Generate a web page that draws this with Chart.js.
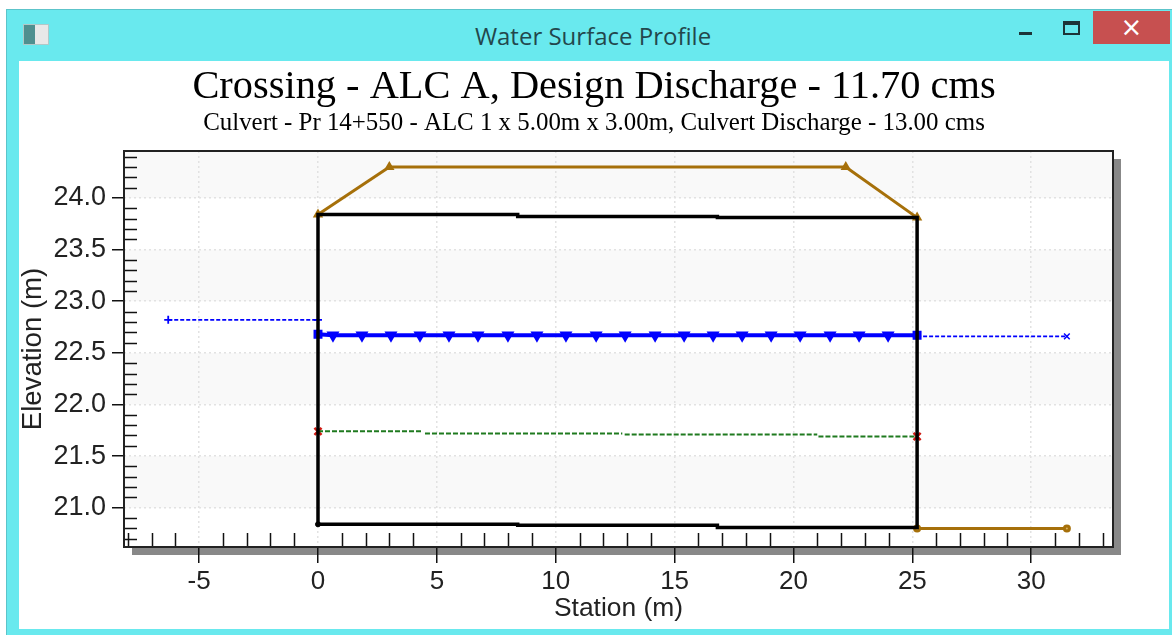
<!DOCTYPE html>
<html>
<head>
<meta charset="utf-8">
<title>Water Surface Profile</title>
<script src="https://cdn.jsdelivr.net/npm/chart.js@4"></script>
<style>
    html, body { margin: 0; padding: 0; background: #fff; overflow: hidden; }
    #win { position: absolute; left: 6px; top: 9px; width: 1166px; height: 626px; background: #69e9ee; border-top: 1px solid #5cc4ca; border-left: 1px solid #5cc4ca; box-sizing: border-box; }
    #caption { position: absolute; left: 0; top: 24px; width: 1186px; text-align: center; font: 24px "Open Sans", sans-serif; color: #23474c; line-height: 24px; }
    #icon { position: absolute; left: 23px; top: 24px; width: 26px; height: 21px; background: linear-gradient(90deg, #4f8f8f 0 45%, #e8e8e8 45% 100%); border: 1px solid #b0c8c8; box-sizing: border-box; }
    #minBtn { position: absolute; left: 1019px; top: 32px; width: 13px; height: 3px; background: #1d3438; }
    #maxBtn { position: absolute; left: 1063px; top: 21px; width: 17px; height: 14px; border: 2px solid #1d3438; border-top-width: 4px; box-sizing: border-box; }
    #closeBtn { position: absolute; left: 1093px; top: 11px; width: 77px; height: 33px; background: #c75050; color: #fff; font: 26px/33px "DejaVu Sans", sans-serif; text-align: center; }
    #chartCanvas { position: absolute; left: 19px; top: 61px; background: #fff; }
</style>
</head>
<body>
<div id="win"></div>
<div id="icon"></div>
<div id="caption">Water Surface Profile</div>
<div id="minBtn"></div>
<div id="maxBtn"></div>
<div id="closeBtn">×</div>
<canvas id="chartCanvas" width="1150" height="568"></canvas>
<script>
const titleText = 'Crossing - ALC A, Design Discharge - 11.70 cms';
const subtitleText = 'Culvert - Pr 14+550 - ALC 1 x 5.00m x 3.00m, Culvert Discharge - 13.00 cms';

const xTicks = [-5, 0, 5, 10, 15, 20, 25, 30];
const yTicks = [21, 21.5, 22, 22.5, 23, 23.5, 24];

// Roadway
const roadX = [0, 3, 22.2, 25.2];
const roadY = [23.84, 24.3, 24.3, 23.81];

// Culvert barrel, closed outline
const barrelX = [0, 8.4, 8.4, 16.8, 16.8, 25.2, 25.2, 16.8, 16.8, 8.4, 8.4, 0, 0];
const barrelY = [20.84, 20.84, 20.83, 20.83, 20.81, 20.81, 23.81, 23.81, 23.82, 23.82, 23.84, 23.84, 20.84];

// Water surface inside the barrel
const waterX = [0, 0.63, 1.85, 3.07, 4.29, 5.51, 6.73, 7.99, 9.21, 10.43, 11.7, 12.92, 14.18, 15.4, 16.62, 17.84, 19.06, 20.28, 21.54, 22.76, 23.98, 25.2];
const waterY = [22.68, 22.67, 22.67, 22.67, 22.67, 22.67, 22.67, 22.67, 22.67, 22.67, 22.67, 22.67, 22.67, 22.67, 22.67, 22.67, 22.67, 22.67, 22.67, 22.67, 22.67, 22.67];

// Headwater and tailwater
const headwaterX = [-6.3, 0];
const headwaterY = [22.82, 22.82];
const tailwaterX = [25.2, 31.5];
const tailwaterY = [22.66, 22.66];

// Critical depth, drawn in pieces with small breaks
const criticalX = [0, 4.4, 4.5, 12.8, 12.9, 21, 21.05, 25.2];
const criticalY = [21.74, 21.74, 21.72, 21.72, 21.71, 21.71, 21.69, 21.69];

// Outlet channel
const channelX = [25.2, 31.5];
const channelY = [20.8, 20.8];

const xMin = -8.16, xMax = 33.44, yMin = 20.62, yMax = 24.455;
const brown = '#a6700a';

function zip(xs, ys) {
    return xs.map((x, i) => ({ x: x, y: ys[i] }));
}

// Bands, shadow, frame and the minor ticks
const frame = {
    id: 'frame',
    beforeDraw(chart) {
        const ctx = chart.ctx, a = chart.chartArea, y = chart.scales.y;
        ctx.save();
        ctx.fillStyle = '#888888';
        ctx.fillRect(a.left + 8, a.top + 8, a.width, a.height);
        ctx.fillStyle = '#ffffff';
        ctx.fillRect(a.left, a.top, a.width, a.height);
        ctx.fillStyle = '#f9f9f9';
        [[yMax, 24], [23.5, 23], [22.5, 22], [21.5, 21]].forEach(b => {
            const top = y.getPixelForValue(b[0]), bot = y.getPixelForValue(b[1]);
            ctx.fillRect(a.left, top, a.width, bot - top);
        });
        ctx.restore();
    },
    afterDatasetsDraw(chart) {
        const ctx = chart.ctx, a = chart.chartArea, xs = chart.scales.x, ys = chart.scales.y;
        ctx.save();
        ctx.strokeStyle = '#111111';
        ctx.lineWidth = 1.5;
        ctx.beginPath();
        for (let v = -8; v <= 33; v++) {
            if (v % 5 === 0) continue;
            const px = Math.round(xs.getPixelForValue(v)) + 0.5;
            ctx.moveTo(px, a.bottom);
            ctx.lineTo(px, a.bottom - 14);
        }
        for (let n = 207; n <= 244; n++) {
            if (n % 5 === 0) continue;
            const py = Math.round(ys.getPixelForValue(n / 10)) + 0.5;
            ctx.moveTo(a.left, py);
            ctx.lineTo(a.left + 13, py);
        }
        ctx.stroke();
        ctx.lineWidth = 2;
        ctx.strokeStyle = '#222222';
        ctx.strokeRect(a.left, a.top, a.width, a.height);
        ctx.restore();
    }
};

new Chart(document.getElementById('chartCanvas'), {
    type: 'scatter',
    plugins: [frame],
    data: {
        datasets: [
            {
                label: 'Barrel',
                data: zip(barrelX, barrelY),
                showLine: true,
                borderColor: '#000000',
                borderWidth: 3.5,
                pointRadius: 0
            },
            {
                label: 'Barrel corner',
                data: zip([0], [20.84]),
                backgroundColor: '#000000',
                borderColor: '#000000',
                pointRadius: 2.5
            },
            {
                label: 'Road',
                data: zip(roadX, roadY),
                showLine: true,
                borderColor: brown,
                borderWidth: 3,
                pointStyle: 'triangle',
                pointRadius: 3,
                backgroundColor: brown
            },
            {
                label: 'Channel',
                data: zip(channelX, channelY),
                showLine: true,
                borderColor: brown,
                borderWidth: 3,
                pointStyle: 'circle',
                pointRadius: 2.5,
                backgroundColor: '#d9b060'
            },
            {
                label: 'Critical depth',
                data: zip(criticalX, criticalY),
                showLine: true,
                borderColor: '#1f7a1f',
                borderWidth: 2,
                borderDash: [5, 2],
                pointRadius: 0,
                segment: {
                    borderColor: ctx => (ctx.p0DataIndex % 2 === 1 ? 'transparent' : '#1f7a1f')
                }
            },
            {
                label: 'Critical depth ends',
                data: zip([0, 25.2], [21.74, 21.69]),
                pointStyle: 'crossRot',
                pointRadius: 5,
                borderWidth: 2.5,
                borderColor: '#d01810',
                backgroundColor: '#d01810'
            },
            {
                label: 'Headwater',
                data: zip(headwaterX, headwaterY),
                showLine: true,
                borderColor: '#0000ff',
                borderWidth: 1.8,
                borderDash: [4, 2],
                pointStyle: 'cross',
                pointRadius: 4,
                pointBorderWidth: 1.8
            },
            {
                label: 'Tailwater',
                data: zip(tailwaterX, tailwaterY),
                showLine: true,
                borderColor: '#0000ff',
                borderWidth: 1.8,
                borderDash: [4, 2],
                pointStyle: 'crossRot',
                pointRadius: [0, 4],
                pointBorderWidth: 1.5
            },
            {
                label: 'Water surface',
                data: zip(waterX, waterY),
                showLine: true,
                borderColor: '#0000ff',
                borderWidth: 4,
                pointStyle: waterX.map((x, i) => (i === 0 || i === waterX.length - 1 ? 'rect' : 'triangle')),
                rotation: 180,
                pointRadius: 3.5,
                backgroundColor: '#0000ff'
            }
        ]
    },
    options: {
        responsive: false,
        animation: false,
        plugins: {
            legend: { display: false },
            tooltip: { enabled: false },
            title: {
                display: true,
                text: titleText,
                color: '#000000',
                font: { family: '"Liberation Serif"', size: 40.4, weight: 'normal', lineHeight: 1 },
                padding: { top: 6, bottom: 1 }
            },
            subtitle: {
                display: true,
                text: subtitleText,
                color: '#000000',
                font: { family: '"Liberation Serif"', size: 24.9, weight: 'normal', lineHeight: 1 },
                padding: { top: 3, bottom: 14.7 }
            }
        },
        scales: {
            x: {
                type: 'linear',
                min: xMin,
                max: xMax,
                afterBuildTicks: scale => { scale.ticks = xTicks.map(v => ({ value: v })); },
                afterFit: scale => { scale.height = 82; },
                ticks: {
                    color: '#222222',
                    padding: 3,
                    maxRotation: 0,
                    font: { family: '"Liberation Sans"', size: 26 }
                },
                grid: { color: '#e2e2e2', lineWidth: 1.5, tickColor: '#111111', tickLength: 16, tickWidth: 1.5, tickBorderDash: [] },
                border: { display: false, dash: [2, 3] },
                title: {
                    display: true,
                    text: 'Station (m)',
                    color: '#222222',
                    font: { family: '"Liberation Sans"', size: 26.4, lineHeight: 1 },
                    padding: { top: 0, bottom: 7 }
                }
            },
            y: {
                type: 'linear',
                min: yMin,
                max: yMax,
                afterBuildTicks: scale => { scale.ticks = yTicks.map(v => ({ value: v })); },
                afterFit: scale => { scale.width = 105; },
                ticks: {
                    color: '#222222',
                    padding: 6,
                    callback: v => v.toFixed(1),
                    font: { family: '"Liberation Sans"', size: 27 }
                },
                grid: { color: '#e2e2e2', lineWidth: 1.5, tickColor: '#111111', tickLength: 12, tickWidth: 1.5, tickBorderDash: [] },
                border: { display: false, dash: [2, 3] },
                title: {
                    display: true,
                    text: 'Elevation (m)',
                    color: '#222222',
                    font: { family: '"Liberation Sans"', size: 27.6, lineHeight: 1 },
                    padding: { top: 1, bottom: 0 }
                }
            },
            // empty axis that keeps the right margin without moving the title off centre
            rightMargin: {
                type: 'linear',
                position: 'right',
                min: yMin,
                max: yMax,
                afterFit: scale => { scale.width = 56; },
                ticks: { display: false },
                grid: { display: false },
                border: { display: false }
            }
        }
    }
});
</script>
</body>
</html>
